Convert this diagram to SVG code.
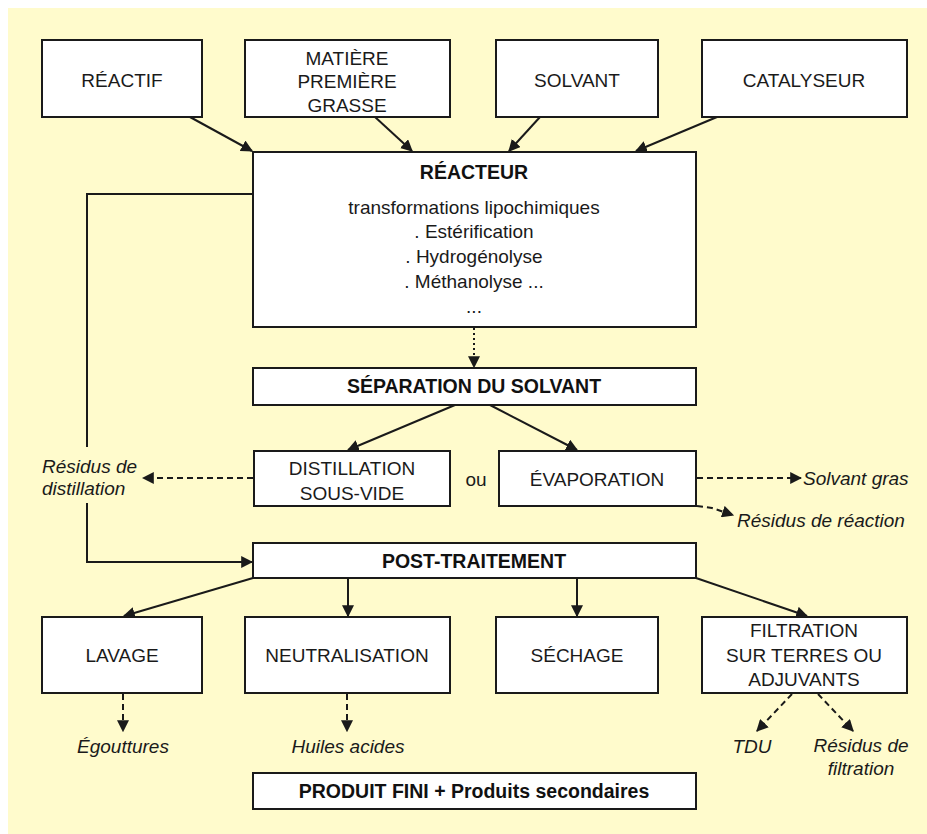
<svg xmlns="http://www.w3.org/2000/svg" width="927" height="834" viewBox="0 0 927 834">
<style>
.box{fill:#ffffff;stroke:#1a1a1a;stroke-width:2}
.t{font-family:"Liberation Sans",Arial,sans-serif;font-size:19px;fill:#1a1a1a;text-anchor:middle}
.b{font-family:"Liberation Sans",Arial,sans-serif;font-size:19.5px;font-weight:bold;fill:#111;text-anchor:middle}
.i{font-family:"Liberation Sans",Arial,sans-serif;font-size:19px;font-style:italic;fill:#1a1a1a}
.c{stroke:#1a1a1a;stroke-width:2;fill:none}
.a{marker-end:url(#ah)}
.d{stroke-dasharray:6 4}
.dot{stroke-dasharray:2 3}
</style>
<defs>
<marker id="ah" viewBox="0 0 10 10" refX="9" refY="5" markerWidth="6" markerHeight="6" orient="auto" markerUnits="strokeWidth">
<path d="M0,0 L10,5 L0,10 z" fill="#1a1a1a"/>
</marker>
</defs>
<rect x="0" y="0" width="927" height="834" fill="#ffffff"/>
<rect x="8" y="8" width="919" height="826" fill="#fffbcc"/>

<g id="connectors">
<line class="c a" x1="190" y1="117" x2="252" y2="151"/>
<line class="c a" x1="375" y1="117" x2="412" y2="151"/>
<line class="c a" x1="540" y1="117" x2="509" y2="151"/>
<line class="c a" x1="717" y1="117" x2="636" y2="151"/>
<line class="c a dot" x1="474" y1="328" x2="474" y2="367"/>
<line class="c a" x1="455" y1="405" x2="348" y2="450"/>
<line class="c a" x1="490" y1="405" x2="577" y2="450"/>
<polyline class="c" points="253,194 87,194 87,447"/>
<polyline class="c a" points="87,503 87,562 252,562"/>
<line class="c a d" x1="253" y1="478" x2="143" y2="478"/>
<line class="c a d" x1="697" y1="478" x2="801" y2="478"/>
<polyline class="c a d" points="697,506 712,508 733,515"/>
<line class="c a" x1="253" y1="578" x2="124" y2="616"/>
<line class="c a" x1="348" y1="578" x2="348" y2="616"/>
<line class="c a" x1="577" y1="578" x2="577" y2="616"/>
<line class="c a" x1="696" y1="578" x2="807" y2="616"/>
<line class="c a d" x1="123" y1="694" x2="123" y2="731"/>
<line class="c a d" x1="347" y1="694" x2="347" y2="731"/>
<line class="c a d" x1="792" y1="694" x2="757" y2="731"/>
<line class="c a d" x1="818" y1="694" x2="853" y2="731"/>
</g>

<g id="reactif"><rect class="box" x="42" y="40" width="160" height="77"/><text class="t" x="122" y="87">RÉACTIF</text></g>
<g id="matiere"><rect class="box" x="245" y="40" width="205" height="77"/>
<text class="t" x="347" y="65">MATIÈRE</text><text class="t" x="347" y="88">PREMIÈRE</text><text class="t" x="347" y="112">GRASSE</text></g>
<g id="solvant"><rect class="box" x="496" y="40" width="162" height="77"/><text class="t" x="577" y="87">SOLVANT</text></g>
<g id="catalyseur"><rect class="box" x="702" y="40" width="205" height="77"/><text class="t" x="804" y="87">CATALYSEUR</text></g>

<g id="reacteur"><rect class="box" x="253" y="152" width="443" height="175"/>
<text class="b" x="474" y="179">RÉACTEUR</text>
<text class="t" x="474" y="214">transformations lipochimiques</text>
<text class="t" x="474" y="238">. Estérification</text>
<text class="t" x="474" y="263">. Hydrogénolyse</text>
<text class="t" x="474" y="288">. Méthanolyse ...</text>
<text class="t" x="474" y="313">...</text></g>

<g id="separation"><rect class="box" x="253" y="368" width="443" height="37"/><text class="b" x="474" y="393">SÉPARATION DU SOLVANT</text></g>

<g id="distillation"><rect class="box" x="254" y="451" width="196" height="55"/>
<text class="t" x="352" y="475">DISTILLATION</text><text class="t" x="352" y="500">SOUS-VIDE</text></g>
<g id="ou"><text class="t" x="476" y="486">ou</text></g>
<g id="evaporation"><rect class="box" x="499" y="451" width="197" height="55"/><text class="t" x="597" y="486">ÉVAPORATION</text></g>

<g id="residus-distillation"><text class="i" x="42" y="473">Résidus de</text><text class="i" x="42" y="495">distillation</text></g>
<g id="solvant-gras"><text class="i" x="803" y="485">Solvant gras</text></g>
<g id="residus-reaction"><text class="i" x="737" y="527">Résidus de réaction</text></g>

<g id="post-traitement"><rect class="box" x="253" y="543" width="443" height="35"/><text class="b" x="474" y="568">POST-TRAITEMENT</text></g>

<g id="lavage"><rect class="box" x="42" y="617" width="160" height="76"/><text class="t" x="122" y="662">LAVAGE</text></g>
<g id="neutralisation"><rect class="box" x="245" y="617" width="205" height="76"/><text class="t" x="347" y="662">NEUTRALISATION</text></g>
<g id="sechage"><rect class="box" x="496" y="617" width="162" height="76"/><text class="t" x="577" y="662">SÉCHAGE</text></g>
<g id="filtration"><rect class="box" x="702" y="617" width="205" height="76"/>
<text class="t" x="804" y="637">FILTRATION</text><text class="t" x="804" y="662">SUR TERRES OU</text><text class="t" x="804" y="686">ADJUVANTS</text></g>

<g id="egouttures"><text class="i" x="123" y="753" text-anchor="middle">Égouttures</text></g>
<g id="huiles-acides"><text class="i" x="348" y="753" text-anchor="middle">Huiles acides</text></g>
<g id="tdu"><text class="i" x="752" y="753" text-anchor="middle">TDU</text></g>
<g id="residus-filtration"><text class="i" x="861" y="752" text-anchor="middle">Résidus de</text><text class="i" x="861" y="775" text-anchor="middle">filtration</text></g>

<g id="produit-fini"><rect class="box" x="253" y="773" width="443" height="36"/><text class="b" x="474" y="798">PRODUIT FINI + Produits secondaires</text></g>
</svg>
